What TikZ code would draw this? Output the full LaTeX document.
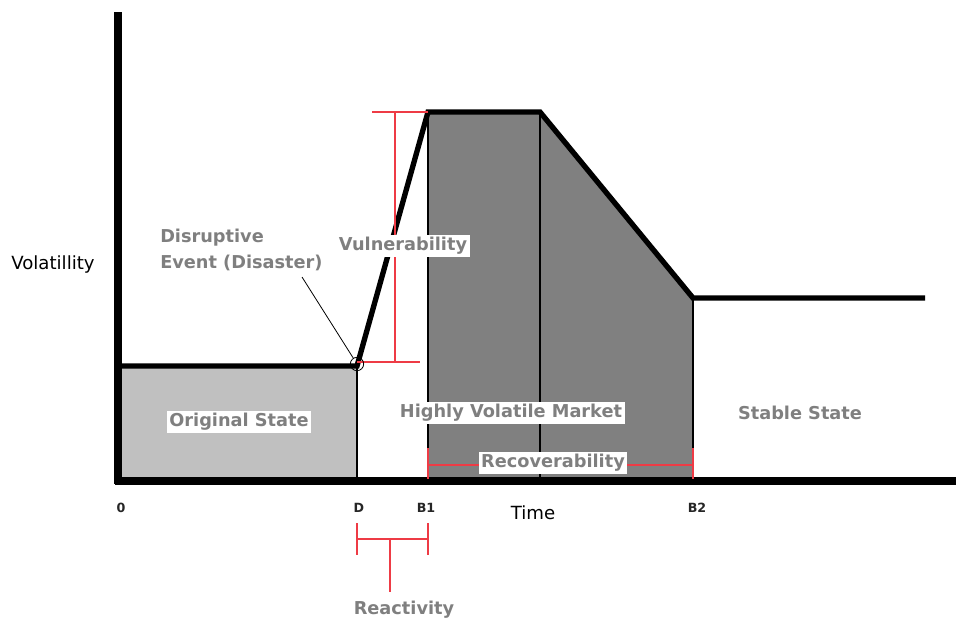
\documentclass[tikz,border=0pt]{standalone}
\usepackage{fontspec}
\setmainfont{DejaVu Sans}
\usetikzlibrary{positioning}
\definecolor{labelgray}{HTML}{7F7F7F}
\definecolor{lightfill}{HTML}{C0C0C0}
\definecolor{darkfill}{HTML}{808080}
\definecolor{bracketred}{HTML}{EE3B45}

\begin{document}
\begin{tikzpicture}[
    x=0.75pt, y=-0.75pt,
    curve/.style={line width=4pt, draw=black},
    axis/.style={line width=5.4pt, draw=black},
    thinline/.style={line width=0.8pt, draw=black},
    bracket/.style={line width=0.9pt, draw=bracketred},
    tag/.style={
        font=\bfseries\fontsize{13.3}{19.5}\selectfont,
        text=labelgray,
        fill=white,
        inner sep=2pt
    },
    tick/.style={font=\bfseries\fontsize{9.5}{11}\selectfont, text=black!85},
    axislabel/.style={font=\fontsize{13.6}{15}\selectfont}
]
\useasboundingbox (0,0) rectangle (956,622);

% Key points of the volatility curve
\coordinate (start) at (118,366);
\coordinate (event) at (357,366);
\coordinate (peak) at (428,112);
\coordinate (plateau) at (540,112);
\coordinate (settle) at (693,298);
\coordinate (finish) at (925,298);

% Shaded regions
\fill[lightfill] (121,368) rectangle (event |- 0,478);
\fill[darkfill] (peak) -- (plateau) -- (settle) -- (693,478) -- (428,478) -- cycle;
\draw[thinline] (event) -- (event |- 0,481);
\draw[thinline] (peak) -- (peak |- 0,478);
\draw[thinline] (plateau) -- (plateau |- 0,478);
\draw[thinline] (settle) -- (settle |- 0,478);

% Axes
\coordinate (ytop) at (118,12);
\coordinate (origin) at (118,481);
\coordinate (xend) at (956,481);
\draw[axis] (ytop) -- (118,484);
\draw[axis] (115,481) -- (xend);

% Volatility curve
\draw[curve] (start) -- (event) -- (peak) -- (plateau) -- (settle) -- (finish);

% Vulnerability bracket
\draw[bracket] (372,112) -- (peak);
\draw[bracket] (395,112) -- (395,362);
\draw[bracket] (event |- 0,362) -- (420,362);
\node[tag] (vuln) at (403,246) {Vulnerability};

% Disruptive event marker
\node[circle, draw, line width=0.6pt, minimum size=10pt, inner sep=0pt] (impact) at (357,364) {};
\node[tag, fill=none, anchor=north west, align=left, inner sep=0pt] (disaster) at (160,229) {Disruptive\\Event (Disaster)};
\coordinate (leader) at (302,277);
\draw[line width=0.6pt] (leader) -- (impact);

% Region labels
\node[tag] (original) at (239,422) {Original State};
\node[tag] (market) at (511,413) {Highly Volatile Market};
\node[tag, fill=none] (stable) at (800,413) {Stable State};

% Recoverability bracket
\draw[bracket] (428,448) -- (428,479);
\draw[bracket] (693,448) -- (693,479);
\draw[bracket] (428,465) -- (693,465);
\node[tag] (recover) at (553,463) {Recoverability};

% Time axis marks
\node[tick] (t0) at (121,508) {0};
\node[tick] (tD) at (359,508) {D};
\node[tick] (tB1) at (426,508) {B1};
\node[tick] (tB2) at (697,508) {B2};
\node[axislabel] (time) at (533,513) {Time};
\node[axislabel] (vol) at (53,264) {Volatillity};

% Reactivity bracket
\draw[bracket] (357,523) -- (357,555);
\draw[bracket] (428,523) -- (428,555);
\draw[bracket] (357,539) -- (428,539);
\draw[bracket] (390,539) -- (390,592);
\node[tag] (react) at (404,610) {Reactivity};

\end{tikzpicture}
\end{document}
